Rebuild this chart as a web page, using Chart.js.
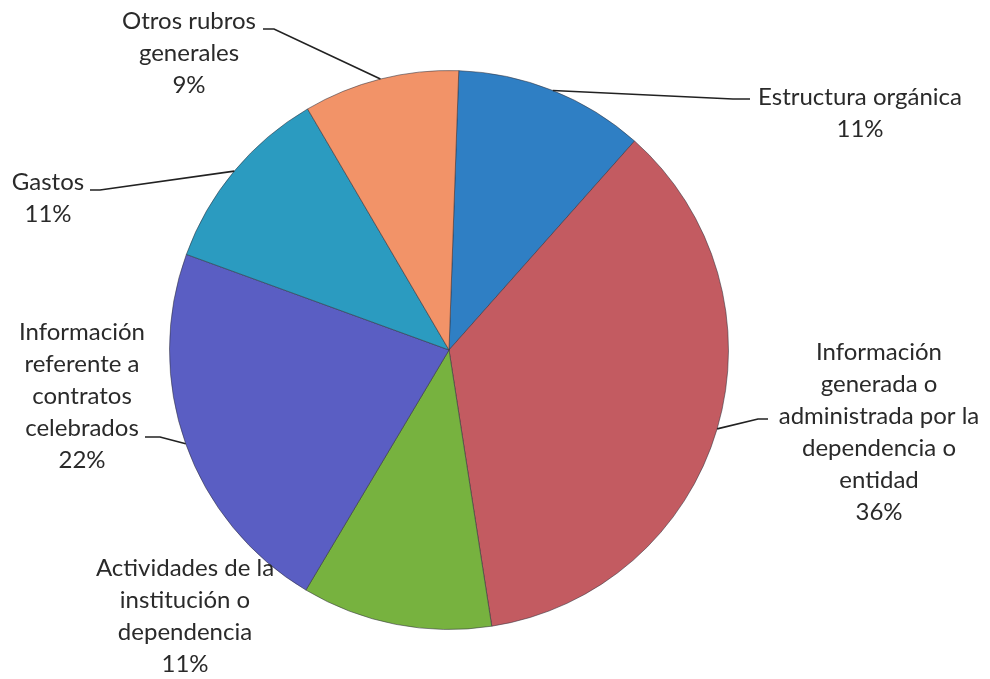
<!DOCTYPE html>
<html>
<head>
<meta charset="utf-8">
<script src="https://cdn.jsdelivr.net/npm/chart.js@4"></script>
<style>
  html, body { margin: 0; padding: 0; background: #fff; }
  #pie { display: block; }
</style>
</head>
<body>
<canvas id="pie" width="990" height="679"></canvas>
<script>
// categories (already split into lines the way the labels wrap)
const categories = [
    ['Estructura orgánica'],
    ['Información', 'generada o', 'administrada por la', 'dependencia o', 'entidad'],
    ['Actividades de la', 'institución o', 'dependencia'],
    ['Información', 'referente a', 'contratos', 'celebrados'],
    ['Gastos'],
    ['Otros rubros', 'generales'],
];
const shares = [11, 36, 11, 22, 11, 9];
const sliceColors = ['#2f7fc4', '#c35b61', '#77b23f', '#5a5ec3', '#2b9bc0', '#f29368'];

// where each label text sits and where its leader line ends
const labelLayout = [
    { cx: 860, y: 97,  lineEnd: [750, 99],  elbow: [733, 99] },
    { cx: 879, y: 352, lineEnd: [768, 419], elbow: [758, 419] },
    { cx: 185, y: 568, lineEnd: null,       elbow: null },
    { cx: 82,  y: 332, lineEnd: [145, 437], elbow: [160, 437] },
    { cx: 48,  y: 182, lineEnd: [90, 190],  elbow: [100, 190] },
    { cx: 189, y: 21,  lineEnd: [263, 29],  elbow: [274, 29] },
];

const lineGap = 32;

// draws the labels and leader lines outside the pie
const outsideLabels = {
    id: 'outsideLabels',
    afterDatasetsDraw(chart) {
        const ctx = chart.ctx;
        const meta = chart.getDatasetMeta(0);
        const total = shares.reduce((a, b) => a + b, 0);
        ctx.save();
        meta.data.forEach((arc, i) => {
            const lay = labelLayout[i];
            const p = arc.getProps(['x', 'y', 'startAngle', 'endAngle', 'outerRadius'], true);
            const mid = (p.startAngle + p.endAngle) / 2;
            if (lay.lineEnd) {
                ctx.beginPath();
                ctx.strokeStyle = '#222';
                ctx.lineWidth = 1.7;
                ctx.moveTo(p.x + Math.cos(mid) * p.outerRadius, p.y + Math.sin(mid) * p.outerRadius);
                ctx.lineTo(lay.elbow[0], lay.elbow[1]);
                ctx.lineTo(lay.lineEnd[0], lay.lineEnd[1]);
                ctx.stroke();
            }
            const lines = categories[i].concat([Math.round(shares[i] / total * 100) + '%']);
            ctx.fillStyle = '#2a2a2a';
            ctx.font = '24px Lato';
            ctx.textAlign = 'center';
            ctx.textBaseline = 'middle';
            lines.forEach((t, k) => ctx.fillText(t, lay.cx, lay.y + k * lineGap));
        });
        ctx.restore();
    }
};

function createPieChart() {
    const ctx = document.getElementById('pie').getContext('2d');
    new Chart(ctx, {
        type: 'pie',
        data: {
            labels: categories,
            datasets: [{
                data: shares,
                backgroundColor: sliceColors,
                borderColor: 'rgba(50, 50, 60, 0.55)',
                borderWidth: 1,
            }],
        },
        options: {
            responsive: false,
            animation: false,
            rotation: 2,
            layout: {
                padding: { left: 169, right: 261, top: 70, bottom: 49 },
            },
            plugins: {
                legend: { display: false },
                tooltip: { enabled: false },
            },
        },
        plugins: [outsideLabels],
    });
}

document.addEventListener('DOMContentLoaded', () => {
    createPieChart();
});
</script>
</body>
</html>
